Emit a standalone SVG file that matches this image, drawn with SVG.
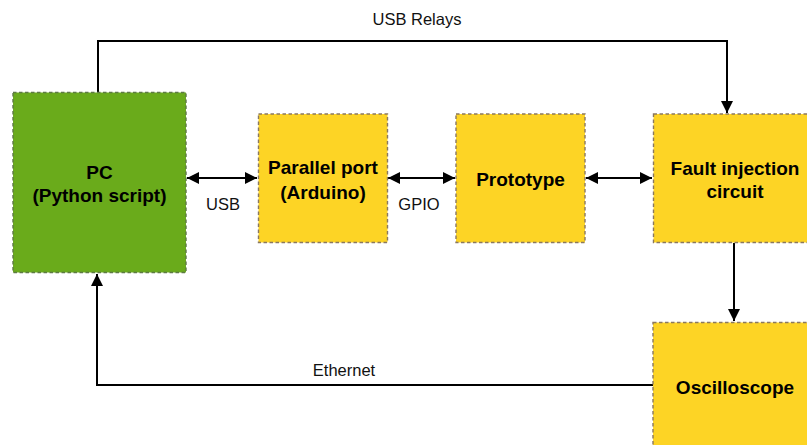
<svg xmlns="http://www.w3.org/2000/svg" width="807" height="445" viewBox="0 0 807 445">
  <style>
    .box { stroke-width: 1.4; stroke-dasharray: 3.5 2.5; }
    .green { fill: #6aab1b; stroke: #5e7a45; }
    .yellow { fill: #fdd425; stroke: #8a7860; }
    .title { font-family: "Liberation Sans", Arial, sans-serif; font-weight: bold; font-size: 19px; fill: #000; text-anchor: middle; }
    .label { font-family: "Liberation Sans", Arial, sans-serif; font-size: 16.5px; fill: #111; text-anchor: middle; }
    .wire { fill: none; stroke: #000; stroke-width: 2; }
  </style>
  <defs>
    <marker id="arrow" viewBox="0 0 10 10" refX="10" refY="5" markerWidth="6" markerHeight="6" orient="auto-start-reverse" markerUnits="strokeWidth">
      <path d="M0,0 L10,5 L0,10 Z" fill="#000"/>
    </marker>
  </defs>

  <rect width="807" height="445" fill="#fff"/>

  <g id="connectors">
    <!-- USB Relays: PC top to fault injection top -->
    <path class="wire" d="M98,92 V41 H727 V113" marker-end="url(#arrow)"/>
    <!-- USB -->
    <path class="wire" d="M187,178 H257" marker-start="url(#arrow)" marker-end="url(#arrow)"/>
    <!-- GPIO -->
    <path class="wire" d="M388,178 H455" marker-start="url(#arrow)" marker-end="url(#arrow)"/>
    <!-- Prototype to fault injection -->
    <path class="wire" d="M586,178 H652" marker-start="url(#arrow)" marker-end="url(#arrow)"/>
    <!-- Fault injection to oscilloscope -->
    <path class="wire" d="M734,243 V321" marker-end="url(#arrow)"/>
    <!-- Ethernet: oscilloscope back to PC -->
    <path class="wire" d="M653,385 H97 V274" marker-end="url(#arrow)"/>
    <text class="label" x="417" y="25">USB Relays</text>
    <text class="label" x="223" y="210">USB</text>
    <text class="label" x="419" y="210">GPIO</text>
    <text class="label" x="344" y="376">Ethernet</text>
  </g>

  <g id="pc">
    <rect class="box green" x="13" y="92.5" width="173" height="180"/>
    <text class="title" x="99.5" y="179">PC</text>
    <text class="title" x="99.5" y="202">(Python script)</text>
  </g>

  <g id="parallel-port">
    <rect class="box yellow" x="258.5" y="114" width="129" height="128.5"/>
    <text class="title" x="323" y="174">Parallel port</text>
    <text class="title" x="323" y="198.5">(Arduino)</text>
  </g>

  <g id="prototype">
    <rect class="box yellow" x="456" y="114" width="129" height="128.5"/>
    <text class="title" x="520.5" y="186">Prototype</text>
  </g>

  <g id="fault-injection">
    <rect class="box yellow" x="653.5" y="114" width="164" height="128.5"/>
    <text class="title" x="735" y="175">Fault injection</text>
    <text class="title" x="735" y="198">circuit</text>
  </g>

  <g id="oscilloscope">
    <rect class="box yellow" x="653" y="322.5" width="164" height="140"/>
    <text class="title" x="735" y="394">Oscilloscope</text>
  </g>
</svg>
